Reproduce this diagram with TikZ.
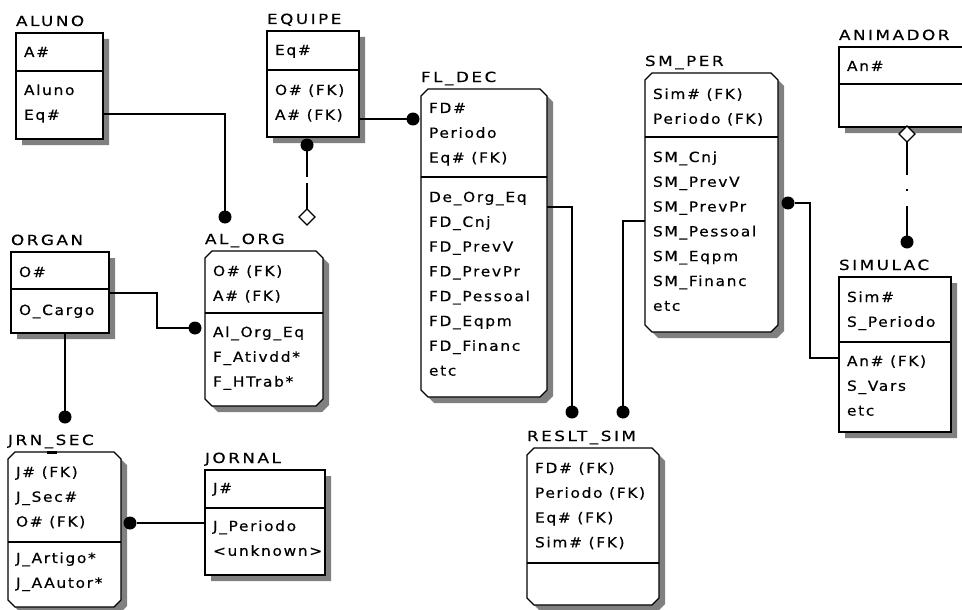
\documentclass[tikz,border=0pt]{standalone}
\usepackage{fontspec}
\setmainfont{DejaVu Sans}[FakeStretch=1.1,LetterSpace=12,FakeBold=0.4]
\newfontfamily\lblfont{DejaVu Sans}[FakeStretch=1.2,LetterSpace=18,FakeBold=0.4]
\usetikzlibrary{shapes.geometric}
\tikzset{
  x=1pt, y=-1pt,
  every node/.style={inner sep=0pt, outer sep=0pt},
  boxline/.style={draw=black, line width=1.2pt, fill=white},
  shadowc/.style={fill=black!50},
  hdrline/.style={line width=1.2pt},
  txt/.style={anchor=base west, font=\fontsize{14}{16}\selectfont},
  lbl/.style={anchor=base west, font=\lblfont\fontsize{14}{16}\selectfont},
  conn/.style={line width=1.3pt},
  dot/.style={circle, fill=black, minimum size=13pt},
  dia/.style={diamond, draw=black, fill=white, line width=1.1pt, minimum width=16pt, minimum height=16pt},
}
% #1 name, #2 l, #3 t, #4 r, #5 b, #6 chamfer, #7 header line y, #8 label
\newcommand\entbox[8]{%
  \fill[shadowc] (#2+#6+6,#3+6) -- (#4-#6+6,#3+6) -- (#4+6,#3+#6+6) -- (#4+6,#5-#6+6)
     -- (#4-#6+6,#5+6) -- (#2+#6+6,#5+6) -- (#2+6,#5-#6+6) -- (#2+6,#3+#6+6) -- cycle;
  \draw[boxline] (#2+#6,#3) -- (#4-#6,#3) -- (#4,#3+#6) -- (#4,#5-#6)
     -- (#4-#6,#5) -- (#2+#6,#5) -- (#2,#5-#6) -- (#2,#3+#6) -- cycle;
  \draw[hdrline] (#2,#7) -- (#4,#7);
  \node[anchor=north west, minimum width={(#4-#2)*1pt}, minimum height={(#5-#3)*1pt}] (#1) at (#2,#3) {};
  \node[lbl] (#1-lbl) at (#2,#3-7) {#8};
}
% #1 prefix, #2 left x, #3 first baseline, #4 list
\newcommand\rowlist[4]{%
  \foreach \t [count=\i] in {#4} {\node[txt] (#1-\i) at (#2+8,#3+24.8*\i-24.8) {\t};}
}
\begin{document}
\begin{tikzpicture}
\useasboundingbox (0,0) rectangle (962,610);
\fill[white] (0,0) rectangle (962,610);
\clip (0,0) rectangle (962,610);

% entities
\entbox{aluno}{16}{33}{103}{139}{0}{71}{ALUNO}
\rowlist{aluno-h}{16}{57}{A\#}
\rowlist{aluno-b}{16}{95}{Aluno, Eq\#}

\entbox{equipe}{267}{31}{359}{137}{0}{70}{EQUIPE}
\rowlist{equipe-h}{267}{55}{Eq\#}
\rowlist{equipe-b}{267}{95}{O\# (FK), A\# (FK)}

\entbox{organ}{11}{252}{109}{333}{0}{289}{ORGAN}
\rowlist{organ-h}{11}{277}{O\#}
\rowlist{organ-b}{11}{315}{O\_Cargo}

\entbox{alorg}{205}{251}{323}{406}{7}{313}{AL\_ORG}
\rowlist{alorg-h}{205}{276}{O\# (FK), A\# (FK)}
\rowlist{alorg-b}{205}{337}{Al\_Org\_Eq, F\_Ativdd*, F\_HTrab*}

\entbox{jrnsec}{8}{452}{121}{607}{7}{542}{JRN\_SEC}
\rowlist{jrnsec-h}{8}{477}{J\# (FK), J\_Sec\#, O\# (FK)}
\rowlist{jrnsec-b}{8}{563}{J\_Artigo*, J\_AAutor*}
\draw[line width=3pt] (47,452) -- (57,452);

\entbox{jornal}{205}{470}{325}{575}{0}{508}{JORNAL}
\rowlist{jornal-h}{205}{493}{J\#}
\rowlist{jornal-b}{205}{531}{J\_Periodo, <unknown>}

\entbox{fldec}{421}{89}{547}{397}{7}{177}{FL\_DEC}
\rowlist{fldec-h}{421}{113}{FD\#, Periodo, Eq\# (FK)}
\rowlist{fldec-b}{421}{202}{De\_Org\_Eq, FD\_Cnj, FD\_PrevV, FD\_PrevPr, FD\_Pessoal, FD\_Eqpm, FD\_Financ, etc}

\entbox{reslt}{527}{448}{659}{605}{7}{563}{RESLT\_SIM}
\rowlist{reslt-h}{527}{473}{FD\# (FK), Periodo (FK), Eq\# (FK), Sim\# (FK)}

\entbox{smper}{645}{73}{778}{332}{7}{137}{SM\_PER}
\rowlist{smper-h}{645}{99}{Sim\# (FK), Periodo (FK)}
\rowlist{smper-b}{645}{162}{SM\_Cnj, SM\_PrevV, SM\_PrevPr, SM\_Pessoal, SM\_Eqpm, SM\_Financ, etc}

\entbox{animador}{839}{47}{1010}{127}{0}{84}{ANIMADOR}
\rowlist{animador-h}{839}{71}{An\#}

\entbox{simulac}{839}{277}{951}{432}{0}{342}{SIMULAC}
\rowlist{simulac-h}{839}{302}{Sim\#, S\_Periodo}
\rowlist{simulac-b}{839}{366}{An\# (FK), S\_Vars, etc}

% relationship ends
\node[dot] (dot-alorg-a) at (225,217) {};
\node[dot] (dot-equipe) at (307,145) {};
\node[dia] (dia-alorg) at (307,217) {};
\node[dot] (dot-fldec) at (413,119) {};
\node[dot] (dot-alorg-o) at (195,328) {};
\node[dot] (dot-jrn-top) at (65,417) {};
\node[dot] (dot-jrn-side) at (130,523) {};
\node[dot] (dot-res1) at (572,412) {};
\node[dot] (dot-res2) at (623,412) {};
\node[dot] (dot-smper) at (788,203) {};
\node[dia] (dia-anim) at (907,134) {};
\node[dot] (dot-simulac) at (907,242) {};

\coordinate (aluno-p) at (103,114);
\coordinate (organ-p) at (109,293);
\coordinate (fldec-p) at (547,207);
\coordinate (smper-p) at (645,221);
\coordinate (simulac-p) at (839,358);

% connectors
\draw[conn] (aluno-p) -| (dot-alorg-a);
\draw[conn] (equipe.east |- dot-fldec) -- (dot-fldec);
\draw[conn, dash pattern=on 32pt off 6pt on 200pt] (dot-equipe.center) -- (dia-alorg.north);
\draw[conn] (organ-p) -- ++(48,0) |- (dot-alorg-o);
\draw[conn] (organ.south -| dot-jrn-top) -- (dot-jrn-top);
\draw[conn] (jornal.west |- dot-jrn-side) -- (dot-jrn-side);
\draw[conn] (fldec-p) -| (dot-res1);
\draw[conn] (smper-p) -| (dot-res2);
\draw[conn] (simulac-p) -- ++(-29,0) |- (dot-smper);
\draw[conn, dash pattern=on 33pt off 14pt on 2pt off 15pt on 200pt] (dia-anim.south) -- (dot-simulac.center);
\end{tikzpicture}
\end{document}
